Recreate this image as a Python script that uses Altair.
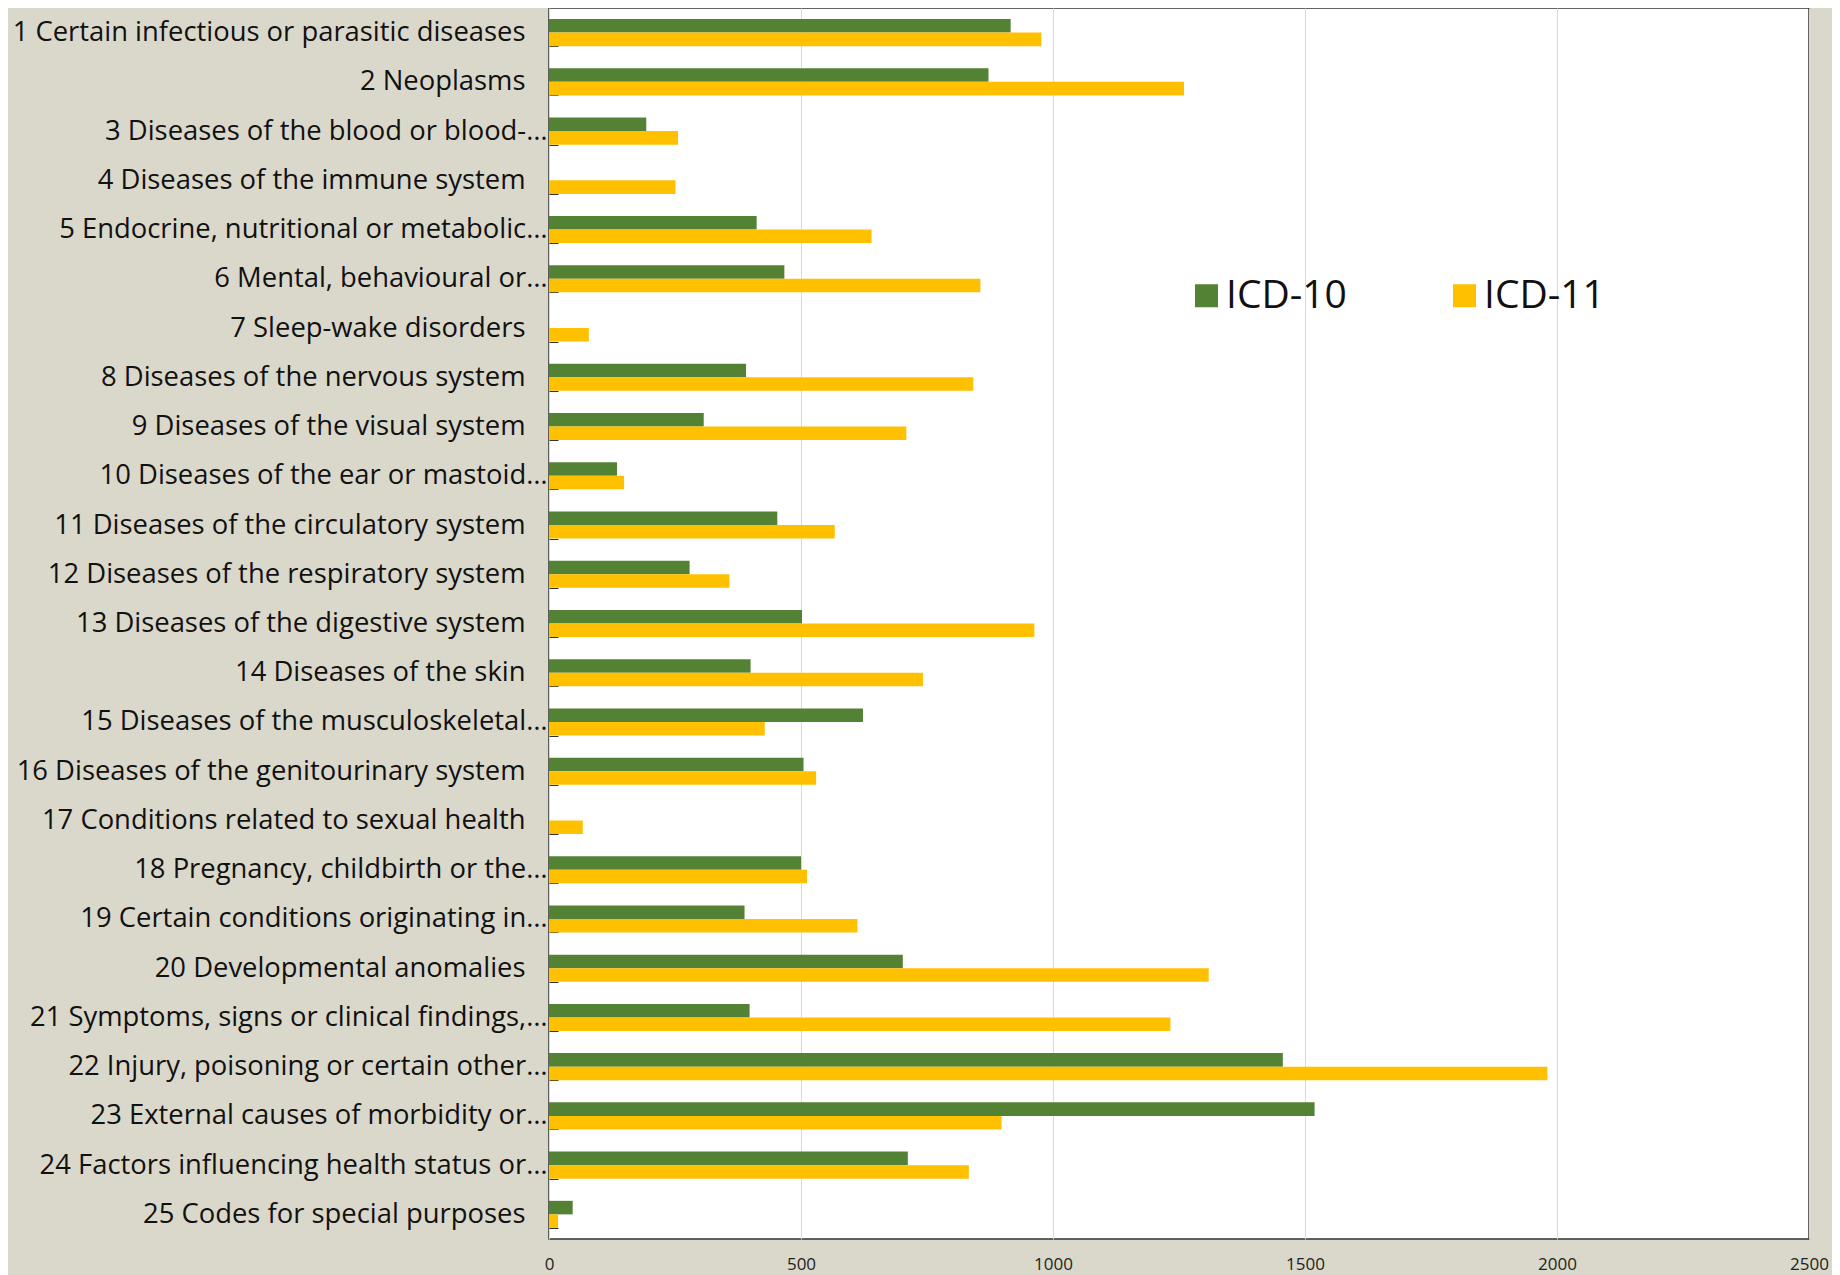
import altair as alt
import pandas as pd

categories = [
    "1 Certain infectious or parasitic diseases",
    "2 Neoplasms",
    "3 Diseases of the blood or blood-…",
    "4 Diseases of the immune system",
    "5 Endocrine, nutritional or metabolic…",
    "6 Mental, behavioural or…",
    "7 Sleep-wake disorders",
    "8 Diseases of the nervous system",
    "9 Diseases of the visual system",
    "10 Diseases of the ear or mastoid…",
    "11 Diseases of the circulatory system",
    "12 Diseases of the respiratory system",
    "13 Diseases of the digestive system",
    "14 Diseases of the skin",
    "15 Diseases of the musculoskeletal…",
    "16 Diseases of the genitourinary system",
    "17 Conditions related to sexual health",
    "18 Pregnancy, childbirth or the…",
    "19 Certain conditions originating in…",
    "20 Developmental anomalies",
    "21 Symptoms, signs or clinical findings,…",
    "22 Injury, poisoning or certain other…",
    "23 External causes of morbidity or…",
    "24 Factors influencing health status or…",
    "25 Codes for special purposes",
]
icd10 = [916, 872, 193, 0, 412, 467, 0, 391, 307, 135, 453, 279, 502, 400,
         623, 505, 0, 500, 388, 702, 398, 1456, 1519, 712, 47]
icd11 = [977, 1260, 256, 251, 640, 856, 79, 842, 709, 149, 567, 358, 963, 742,
         428, 530, 67, 512, 612, 1309, 1233, 1981, 898, 833, 18]
series = ["ICD-10", "ICD-11"]
colors = ["#548235", "#FFC000"]
x_ticks = [0, 500, 1000, 1500, 2000, 2500]

rows = []
for c, a, b in zip(categories, icd10, icd11):
    rows.append({"cat": c, "series": series[0], "value": a})
    rows.append({"cat": c, "series": series[1], "value": b})
df = pd.DataFrame(rows)

FONT = "Open Sans"

chart = alt.Chart(df).mark_bar().encode(
    y=alt.Y(
        "cat:N", sort=categories, title=None,
        scale=alt.Scale(paddingInner=0.45, paddingOuter=0.225),
        axis=alt.Axis(
            tickBand="extent", domain=False, offset=-9, tickSize=9,
            tickColor="#333333", tickWidth=1,
            labelFont=FONT, labelFontSize=27.4, labelColor="#111111",
            labelPadding={"condition": {"test": "indexof(datum.label, '…') >= 0", "value": 2}, "value": 24},
            labelLimit=700, grid=False,
        ),
    ),
    yOffset=alt.YOffset("series:N", sort=series),
    x=alt.X(
        "value:Q", title=None,
        scale=alt.Scale(domain=[0, 2500], nice=False),
        axis=alt.Axis(
            values=x_ticks, format="d", grid=True, gridColor="#D9D9D9", gridWidth=1,
            domain=False, ticks=False, labelFont=FONT, labelFontSize=17,
            labelColor="#222222", labelPadding=17, labelFlush=False,
        ),
    ),
    color=alt.Color(
        "series:N",
        scale=alt.Scale(domain=series, range=colors),
        legend=alt.Legend(
            orient="none", legendX=638, legendY=268, direction="horizontal",
            title=None, symbolType="square", symbolSize=529,
            symbolStrokeWidth=0, labelFont=FONT, labelFontSize=39,
            labelColor="#111111", columnPadding=98, labelOffset=0,
        ),
    ),
).properties(
    width=1260, height=1231,
    padding={"left": 541, "top": 0, "right": 23, "bottom": 36},
    autosize=alt.AutoSizeParams(type="none"),
    background="#DAD8CB",
).configure_view(stroke="#333333", strokeWidth=1.5, fill="white")

chart.save("out.html", embed_options={"renderer": "svg", "actions": False})
